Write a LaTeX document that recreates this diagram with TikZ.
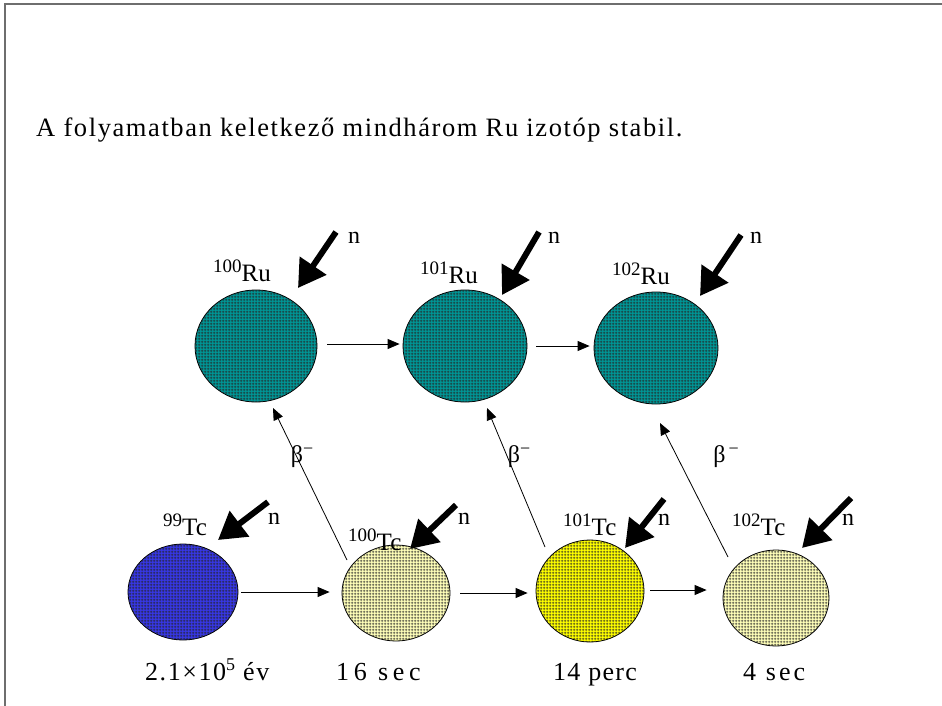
\documentclass[tikz,border=0pt]{standalone}
\usepackage{fontspec}
\setmainfont{Liberation Serif}
\usetikzlibrary{shapes.geometric,arrows.meta,patterns.meta}
\definecolor{ruteal}{RGB}{0,150,150}
\definecolor{tcblue}{RGB}{55,55,230}
\definecolor{tcpale}{RGB}{255,255,185}
\definecolor{tcyellow}{RGB}{255,255,0}
\definecolor{framegray}{RGB}{110,110,110}
\newcommand{\iso}[2]{{\fontsize{19}{19}\selectfont\raisebox{8.5pt}{#1}}#2}
\tikzdeclarepattern{
  name=finegrid, type=uncolored,
  bottom left={(0pt,0pt)}, top right={(3pt,3pt)}, tile size={(3pt,3pt)},
  code={\draw[line width=0.75pt] (0pt,1.5pt) -- (3pt,1.5pt) (1.5pt,0pt) -- (1.5pt,3pt);}}
\begin{document}
\begin{tikzpicture}[x=1pt,y=-1pt,
  isotope/.style={ellipse, draw=black, line width=0.8pt, inner sep=0pt,
    postaction={pattern=finegrid, pattern color=black!85}},
  lbl/.style={anchor=base west, inner sep=0pt, font=\fontsize{25}{25}\selectfont},
  nlbl/.style={anchor=base, inner sep=0pt, font=\fontsize{24}{24}\selectfont},
  timelbl/.style={anchor=base west, inner sep=0pt, font=\fontsize{26}{26}\selectfont},
  thin/.style={line width=0.8pt, -{Triangle[length=12pt,width=10pt]}},
  thick/.style={line width=6pt, -{Triangle[length=27pt,width=31pt]}}]
\useasboundingbox (0,0) rectangle (942,706);
\draw[framegray, line width=2pt] (5,706) -- (5,4) -- (942,4);

\node[anchor=base west, inner sep=0pt, font=\fontsize{26.5}{26.5}\selectfont\addfontfeature{LetterSpace=6}] (title) at (36,137)
  {A folyamatban keletkező mindhárom Ru izotóp stabil.};

% isotopes
\node[isotope, fill=ruteal, minimum width=122pt, minimum height=112pt] (ru100) at (256,346) {};
\node[isotope, fill=ruteal, minimum width=124pt, minimum height=112pt] (ru101) at (465,346) {};
\node[isotope, fill=ruteal, minimum width=124pt, minimum height=112pt] (ru102) at (656,348) {};
\node[isotope, fill=tcblue, minimum width=110pt, minimum height=96pt] (tc99) at (183,592) {};
\node[isotope, fill=tcpale, minimum width=108pt, minimum height=96pt] (tc100) at (396,593) {};
\node[isotope, fill=tcyellow, minimum width=108pt, minimum height=102pt] (tc101) at (590,591) {};
\node[isotope, fill=tcpale, minimum width=106pt, minimum height=96pt] (tc102) at (776,598) {};

% labels
\node[lbl] (lru100) at (213,281) {\iso{100}{Ru}};
\node[lbl] (lru101) at (420,283) {\iso{101}{Ru}};
\node[lbl] (lru102) at (612,284) {\iso{102}{Ru}};
\node[lbl] (ltc99) at (163,535) {\iso{99}{Tc}};
\node[lbl] (ltc100) at (348,550) {\iso{100}{Tc}};
\node[lbl] (ltc101) at (563,535) {\iso{101}{Tc}};
\node[lbl] (ltc102) at (732,535) {\iso{102}{Tc}};

% neutron labels and arrows
\node[nlbl] (n1) at (354,243) {n};
\node[nlbl] (n2) at (554,243) {n};
\node[nlbl] (n3) at (756,243) {n};
\node[nlbl] (n4) at (274,524) {n};
\node[nlbl] (n5) at (464,524) {n};
\node[nlbl] (n6) at (664,525) {n};
\node[nlbl] (n7) at (848,525) {n};

\coordinate (s1) at (336,232); \coordinate (t1) at (298,288);
\coordinate (s2) at (539,232); \coordinate (t2) at (502,295);
\coordinate (s3) at (741,235); \coordinate (t3) at (700,296);
\coordinate (s4) at (268,502); \coordinate (t4) at (218,540);
\coordinate (s5) at (456,505); \coordinate (t5) at (410,549);
\coordinate (s6) at (664,499); \coordinate (t6) at (625,548);
\coordinate (s7) at (851,498); \coordinate (t7) at (802,548);
\foreach \i in {1,...,7} { \draw[thick] (s\i) -- (t\i); }

% decay chain arrows
\draw[thin, shorten <=10pt, shorten >=3pt] ([yshift=2pt]ru100.east) -- ([yshift=2pt]ru100.east -| ru101.west);
\draw[thin, shorten <=9pt, shorten >=4pt] (ru101.east) -- (ru101.east -| ru102.west);
\draw[thin, shorten <=3pt, shorten >=12pt] (tc99.east) -- (tc99.east -| tc100.west);
\draw[thin, shorten <=10pt, shorten >=8pt] (tc100.east) -- (tc100.east -| tc101.west);
\draw[thin, shorten <=6pt, shorten >=16pt] ([yshift=1pt]tc101.east) -- ([yshift=1pt]tc101.east -| tc102.west);

% beta decays
\coordinate (b1s) at (347,560); \coordinate (b1e) at (273,408);
\coordinate (b2s) at (545,547); \coordinate (b2e) at (487,408);
\coordinate (b3s) at (728,557); \coordinate (b3e) at (660,423);
\draw[thin] (b1s) -- (b1e);
\draw[thin] (b2s) -- (b2e);
\draw[thin] (b3s) -- (b3e);
\node[nlbl] (beta1) at (302,462) {β\raisebox{8pt}{\fontsize{18}{18}\selectfont −}};
\node[nlbl] (beta2) at (519,462) {β\raisebox{8pt}{\fontsize{18}{18}\selectfont −}};
\node[nlbl] (beta3) at (726,462) {β\raisebox{8pt}{\fontsize{18}{18}\selectfont \,−}};

% half-lives
\node[timelbl, font=\fontsize{26}{26}\selectfont\addfontfeature{LetterSpace=6}] (h1) at (145,680) {2.1×10\raisebox{10pt}{\fontsize{18}{18}\selectfont 5} év};
\node[timelbl, font=\fontsize{26}{26}\selectfont\addfontfeature{LetterSpace=18}] (h2) at (336,680) {16 sec};
\node[timelbl, font=\fontsize{26}{26}\selectfont\addfontfeature{LetterSpace=5}] (h3) at (553,680) {14 perc};
\node[timelbl, font=\fontsize{26}{26}\selectfont\addfontfeature{LetterSpace=12}] (h4) at (743,680) {4 sec};
\end{tikzpicture}
\end{document}
